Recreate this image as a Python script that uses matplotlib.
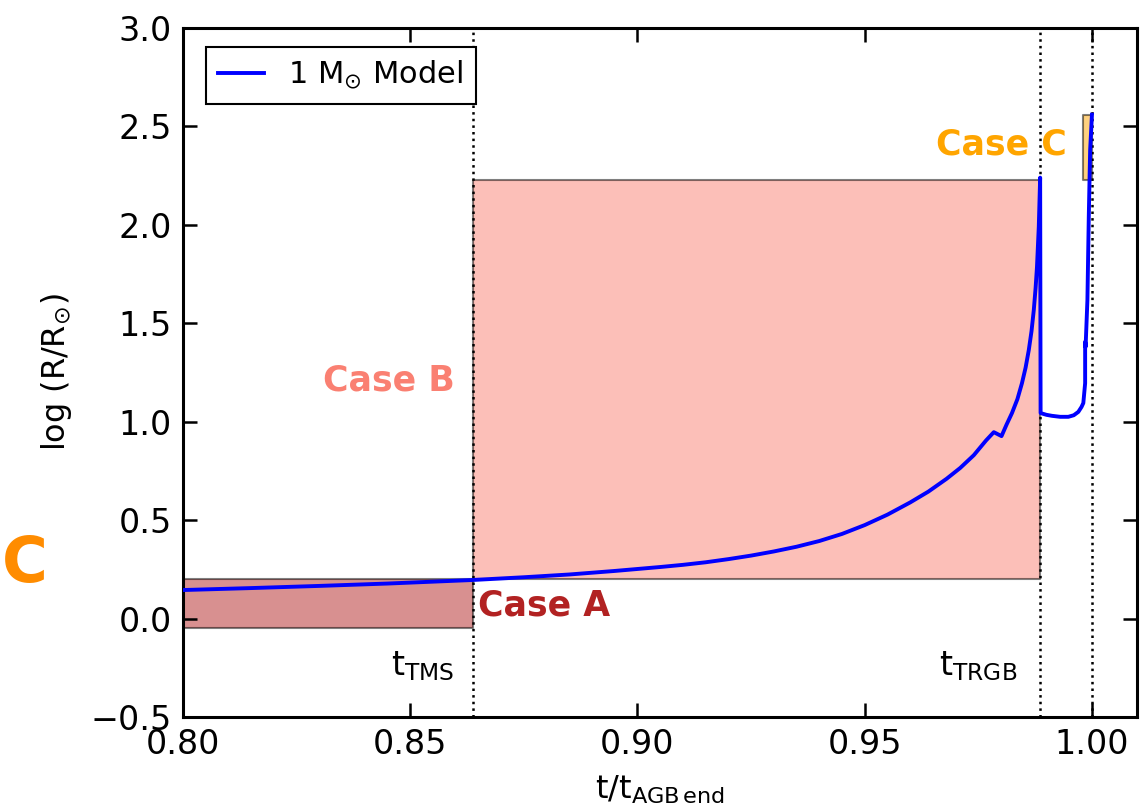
import numpy as np
import matplotlib
matplotlib.use("Agg")
import matplotlib.pyplot as plt
from matplotlib import ticker

# radius evolution of the 1 Msun model (time in units of t_AGB,end)
t = [0.800, 0.815, 0.830, 0.845, 0.8637, 0.875, 0.885, 0.895, 0.905, 0.910,
     0.915, 0.920, 0.925, 0.930, 0.935, 0.940, 0.945, 0.950, 0.955, 0.960,
     0.964, 0.968, 0.971, 0.974, 0.9767, 0.9784, 0.9801, 0.9812, 0.9824,
     0.9836, 0.9846, 0.9854, 0.9861, 0.9867, 0.9872, 0.9876, 0.9879,
     0.9883, 0.9886, 0.9887, 0.9900, 0.9912, 0.9930, 0.9948, 0.9960,
     0.9970, 0.9977, 0.9981, 0.9985, 0.9985, 0.9986, 0.9990, 0.9993,
     0.9996, 1.0000]
logR = [0.145, 0.155, 0.166, 0.178, 0.196, 0.210, 0.224, 0.242, 0.262, 0.273,
        0.286, 0.302, 0.320, 0.341, 0.365, 0.394, 0.430, 0.475, 0.528, 0.590,
        0.645, 0.710, 0.765, 0.830, 0.905, 0.947, 0.927, 0.985, 1.044,
        1.115, 1.196, 1.275, 1.364, 1.460, 1.567, 1.680, 1.785,
        1.990, 2.240, 1.044, 1.035, 1.030, 1.025, 1.025, 1.033,
        1.050, 1.075, 1.095, 1.196, 1.406, 1.380, 1.618, 2.040,
        2.380, 2.560]

t_tms = 0.8637
t_trgb = 0.9886
t_end = 1.0

# mass-transfer windows: (t0, t1, logR_low, logR_high)
case_a = (0.800, t_tms, -0.05, 0.20)
case_b = (t_tms, t_trgb, 0.20, 2.23)
case_c = (0.998, t_end, 2.23, 2.56)

plt.rcParams['font.family'] = 'DejaVu Sans'
plt.rcParams['mathtext.fontset'] = 'dejavusans'

fig = plt.figure(figsize=(11.46, 8.10), dpi=100)
ax = fig.add_axes([0.1597, 0.1148, 0.8328, 0.8506])

for (x0, x1, y0, y1), c in [(case_a, 'firebrick'), (case_b, 'salmon'), (case_c, 'orange')]:
    ax.fill_between([x0, x1], y0, y1, facecolor=c, edgecolor='k', alpha=0.5, lw=1.5)

for tv in (t_tms, t_trgb, t_end):
    ax.axvline(tv, color='k', ls=':', lw=1.8, zorder=3)

ax.plot(t, logR, color='blue', lw=2.8, label=r'1 M$_{\odot}$ Model', zorder=4)

ax.text(0.8598, 1.21, 'Case B', color='salmon', fontsize=25, fontweight='bold',
        ha='right', va='center')
ax.text(0.8650, 0.065, 'Case A', color='firebrick', fontsize=25, fontweight='bold',
        ha='left', va='center')
ax.text(0.9945, 2.41, 'Case C', color='orange', fontsize=25, fontweight='bold',
        ha='right', va='center')
ax.text(0.8598, -0.24, r't$_{\mathrm{TMS}}$', fontsize=24, ha='right', va='center')
ax.text(0.9835, -0.24, r't$_{\mathrm{TRGB}}$', fontsize=24, ha='right', va='center')

fig.text(0.002, 0.302, 'C', color='darkorange', fontsize=45, fontweight='bold',
         ha='left', va='center')

ax.set_xlim(0.80, 1.01)
ax.set_ylim(-0.5, 3.0)
ax.set_xticks([0.80, 0.85, 0.90, 0.95, 1.00])
ax.set_yticks(np.arange(-0.5, 3.01, 0.5))
ax.xaxis.set_major_formatter(ticker.FormatStrFormatter('%.2f'))
ax.yaxis.set_major_formatter(ticker.FuncFormatter(
    lambda v, p: ('%.1f' % v).replace('-', '\u2212')))
ax.tick_params(direction='in', length=10, width=1.8, labelsize=24,
               top=True, right=True, pad=8)
for s in ax.spines.values():
    s.set_linewidth(2.2)

ax.set_xlabel(r't/t$_{\mathrm{AGB\,end}}$', fontsize=23, labelpad=9)
ax.set_ylabel(r'log (R/R$_{\odot}$)', fontsize=23, labelpad=12)

leg = ax.legend(loc='upper left', fontsize=22, fancybox=False, framealpha=1,
                edgecolor='k', handlelength=1.5, borderpad=0.4,
                bbox_to_anchor=(0.008, 0.995))
leg.get_frame().set_linewidth(1.5)

fig.savefig('out.png', dpi=100)
